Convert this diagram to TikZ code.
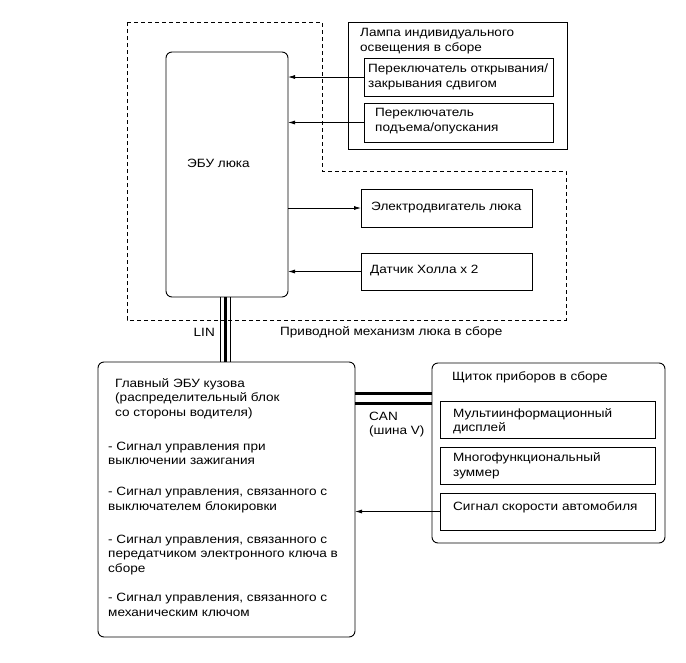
\documentclass[tikz,border=0pt]{standalone}
\usepackage{fontspec}
\setmainfont{Liberation Sans}[FakeStretch=1.13]
\usetikzlibrary{arrows.meta}

\begin{document}
\begin{tikzpicture}[x=1pt, y=-1pt, >={Latex[length=7pt,width=4pt]},
  box/.style={draw, line width=0.9pt, inner sep=0pt, outer sep=0pt},
  rbox/.style={box, rounded corners=6pt},
  txt/.style={anchor=west, inner sep=0pt, align=left, font=\fontsize{12}{14.5}\selectfont}]
  \useasboundingbox (0,0) rectangle (686,662);

  % Sunroof drive assembly (dashed outline)
  \draw[line width=0.8pt, dash pattern=on 4pt off 3pt] (127,22) -- (322,22) -- (322,171)
    -- (566,171) -- (566,320) -- (127,320) -- cycle;

  \node[rbox, minimum width=122pt, minimum height=245pt] (ecu) at (227,174.5) {};
  \node[txt] (ecutxt) at (187,163) {ЭБУ люка};

  % Lamp assembly and switches
  \node[box, minimum width=219pt, minimum height=127pt] (lamp) at (457.5,85.5) {};
  \node[txt] (lamptxt) at (360,41) {Лампа индивидуального\\освещения в сборе};
  \node[box, fill=white, minimum width=189pt, minimum height=38pt] (slide) at (458.5,77) {};
  \node[txt] (slidetxt) at (368,77) {Переключатель открывания/\\закрывания сдвигом};
  \node[box, fill=white, minimum width=189pt, minimum height=39pt] (tilt) at (458.5,122.5) {};
  \node[txt] (tilttxt) at (375,121) {Переключатель\\подъема/опускания};

  % Motor and sensor
  \node[box, minimum width=171pt, minimum height=38pt] (motor) at (446.5,208) {};
  \node[txt] (motortxt) at (371,208) {Электродвигатель люка};
  \node[box, minimum width=171pt, minimum height=37pt] (hall) at (446.5,271.5) {};
  \node[txt] (halltxt) at (370,271) {Датчик Холла x 2};

  \draw[->, line width=0.8pt] (slide.west) -- (slide.west -| ecu.east);
  \draw[->, line width=0.8pt] (tilt.west) -- (tilt.west -| ecu.east);
  \draw[->, line width=0.8pt] (ecu.east |- motor.west) -- (motor.west);
  \draw[->, line width=0.8pt] (hall.west) -- (hall.west -| ecu.east);

  \node[txt, anchor=east] (lin) at (215,332) {LIN};
  \node[txt] (drivetxt) at (280,332) {Приводной механизм люка в сборе};

  % Main body ECU
  \node[rbox, minimum width=257pt, minimum height=275pt] (body) at (226.5,499.5) {};
  \node[txt] (bodytxt) at (115,398.5) {Главный ЭБУ кузова\\(распределительный блок\\со стороны водителя)};
  \node[txt] (sig1) at (108,453.5) {- Сигнал управления при\\выключении зажигания};
  \node[txt] (sig2) at (108,500) {- Сигнал управления, связанного с\\выключателем блокировки};
  \node[txt] (sig3) at (108,555) {- Сигнал управления, связанного с\\передатчиком электронного ключа в\\сборе};
  \node[txt] (sig4) at (108,605) {- Сигнал управления, связанного с\\механическим ключом};

  % LIN bus
  \foreach \dx/\lw in {-6.5/1.5, -1.5/3.5, 3.5/1.5}
    \draw[line width=\lw pt] ([xshift=\dx pt]ecu.south) -- ([xshift=\dx pt]ecu.south |- body.north);

  % Combination meter
  \node[rbox, minimum width=233pt, minimum height=180pt] (meter) at (548.5,453) {};
  \node[txt] (metertxt) at (452,377) {Щиток приборов в сборе};
  \node[box, minimum width=215pt, minimum height=37pt] (mid) at (547.5,419.5) {};
  \node[txt] (midtxt) at (453,421) {Мультиинформационный\\дисплей};
  \node[box, minimum width=215pt, minimum height=37pt] (buzzer) at (547.5,465.5) {};
  \node[txt] (buzzertxt) at (453,466) {Многофункциональный\\зуммер};
  \node[box, minimum width=215pt, minimum height=37pt] (speed) at (547.5,511.5) {};
  \node[txt] (speedtxt) at (453,507) {Сигнал скорости автомобиля};

  \draw[->, line width=0.8pt] (speed.west) -- (speed.west -| body.east);

  % CAN bus
  \coordinate (can1) at (390,393.7);
  \coordinate (can2) at (390,403.7);
  \draw[line width=3.2pt] (body.east |- can1) -- (meter.west |- can1);
  \draw[line width=3.2pt] (body.east |- can2) -- (meter.west |- can2);
  \node[txt] (cantxt) at (369,424.5) {CAN\\(шина V)};
\end{tikzpicture}
\end{document}
